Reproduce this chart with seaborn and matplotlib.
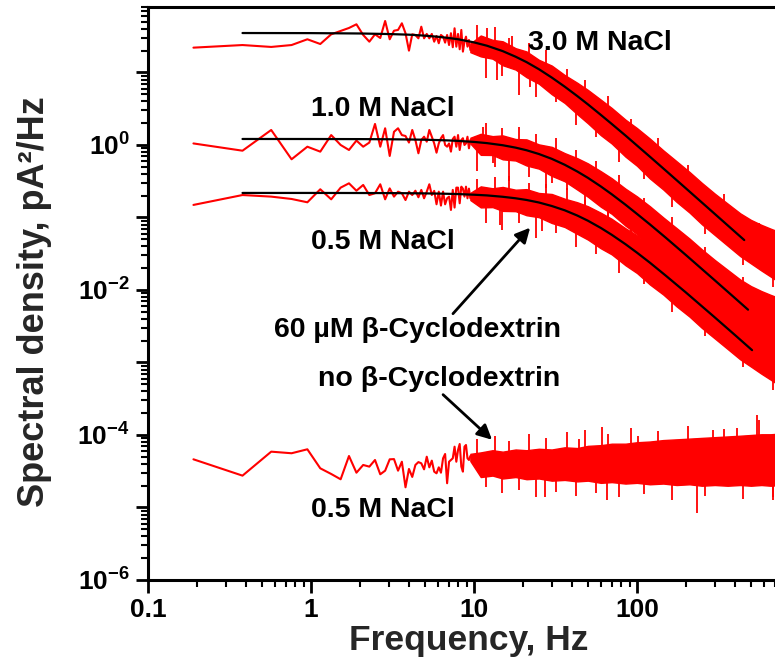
import numpy as np
import matplotlib
matplotlib.use("Agg")
import matplotlib.pyplot as plt
import seaborn as sns
from matplotlib.ticker import FixedLocator, LogLocator, FuncFormatter, NullFormatter

# ---- low-frequency periodogram bins (Hz) ----
FREQ_LOW = [0.19, 0.38, 0.57, 0.76, 0.95, 1.14, 1.33, 1.52, 1.71, 1.90,
            2.09, 2.28, 2.47, 2.66, 2.85, 3.04, 3.23, 3.42, 3.61, 3.80,
            3.99, 4.18, 4.37, 4.56, 4.75, 4.94, 5.13, 5.32, 5.51, 5.70,
            5.89, 6.08, 6.27, 6.46, 6.65, 6.84, 7.03, 7.22, 7.41, 7.60,
            7.79, 7.98, 8.17, 8.36, 8.55, 8.74, 8.93, 9.12, 9.31, 9.50]

# spectral density, pA^2/Hz
PSD_3M0_LOW = [22.0, 23.9, 22.5, 23.9, 28.7, 24.7, 33.6, 37.4, 41.1, 46.2,
               32.9, 26.6, 33.6, 29.9, 51.3, 28.7, 37.7, 38.6, 47.7, 34.8,
               20.0, 33.6, 32.9, 29.6, 42.8, 29.6, 34.0, 29.6, 34.0, 26.6,
               31.9, 25.3, 32.9, 31.2, 25.8, 32.9, 23.9, 34.8, 22.3, 40.7,
               22.7, 34.0, 20.9, 38.6, 19.4, 26.6, 31.2, 22.7, 28.1, 20.4]
PSD_1M0_LOW = [1.05, 0.834, 1.61, 0.635, 0.947, 0.809, 1.37, 1.00, 0.853, 1.15,
               0.947, 1.08, 1.95, 0.947, 1.70, 0.705, 1.52, 1.70, 1.37, 1.33,
               1.08, 1.61, 1.17, 0.768, 1.17, 1.30, 1.11, 1.61, 1.30, 1.05,
               0.783, 1.05, 1.24, 1.37, 1.00, 0.947, 1.05, 0.809, 1.21, 1.30,
               0.947, 1.37, 0.853, 1.17, 1.24, 1.00, 1.05, 1.30, 0.90, 1.17]
PSD_0M5_LOW = [0.149, 0.204, 0.194, 0.180, 0.162, 0.245, 0.178, 0.258, 0.296, 0.234,
               0.281, 0.204, 0.216, 0.287, 0.178, 0.252, 0.194, 0.227, 0.216, 0.174,
               0.227, 0.204, 0.234, 0.190, 0.240, 0.184, 0.227, 0.287, 0.204, 0.233,
               0.152, 0.227, 0.146, 0.227, 0.152, 0.184, 0.194, 0.127, 0.240, 0.137,
               0.258, 0.258, 0.157, 0.266, 0.250, 0.194, 0.266, 0.184, 0.250, 0.184]
PSD_NOCD_LOW = [4.62e-5, 2.75e-5, 5.89e-5, 5.60e-5, 6.35e-5, 3.47e-5, 2.90e-5, 2.45e-5, 5.13e-5, 3.02e-5,
                3.86e-5, 3.66e-5, 4.52e-5, 2.87e-5, 3.22e-5, 4.62e-5, 4.65e-5, 3.22e-5, 4.28e-5, 1.90e-5,
                3.40e-5, 2.64e-5, 3.86e-5, 4.23e-5, 4.07e-5, 3.36e-5, 5.02e-5, 3.58e-5, 4.43e-5, 3.12e-5,
                2.96e-5, 3.58e-5, 3.02e-5, 4.77e-5, 5.47e-5, 2.16e-5, 4.28e-5, 4.52e-5, 4.77e-5, 6.90e-5,
                4.28e-5, 6.21e-5, 7.52e-5, 3.66e-5, 3.12e-5, 6.90e-5, 7.28e-5, 4.77e-5, 4.52e-5, 5.13e-5]

# ---- dense high-frequency part: spread of the periodogram (log10 pA^2/Hz) ----
BAND_FREQ = [9.5, 11, 13, 15, 18, 21, 25, 30, 36, 43, 50, 60, 70, 85, 100,
             120, 145, 175, 210, 250, 300, 360, 430, 500, 580, 660, 760]
BAND_3M0_UP = [1.400, 1.510, 1.450, 1.430, 1.335, 1.290, 1.175, 1.095, 0.965, 0.858, 0.759, 0.625,
               0.510, 0.349, 0.233, 0.088, -0.074, -0.225, -0.372, -0.523, -0.671, -0.809, -0.943,
               -1.033, -1.102, -1.154, -1.207]
BAND_3M0_LO = [1.280, 1.222, 1.190, 1.100, 1.040, 0.935, 0.845, 0.700, 0.580, 0.425, 0.299, 0.135,
               0.020, -0.161, -0.287, -0.462, -0.614, -0.785, -0.932, -1.093, -1.241, -1.389, -1.533,
               -1.633, -1.732, -1.814, -1.907]
BAND_1M0_UP = [0.100, 0.154, 0.122, 0.132, 0.082, 0.077, 0.008, -0.026, -0.112, -0.182, -0.254, -0.362,
               -0.459, -0.603, -0.709, -0.845, -1.000, -1.147, -1.291, -1.440, -1.586, -1.723, -1.856,
               -1.946, -2.015, -2.067, -2.119]
BAND_1M0_LO = [0.020, -0.136, -0.138, -0.198, -0.214, -0.283, -0.326, -0.426, -0.500, -0.615, -0.714,
               -0.852, -0.949, -1.113, -1.229, -1.395, -1.540, -1.707, -1.851, -2.010, -2.156, -2.303,
               -2.446, -2.546, -2.645, -2.727, -2.819]
BAND_0M5_UP = [-0.660, -0.571, -0.597, -0.579, -0.617, -0.609, -0.662, -0.676, -0.741, -0.790, -0.845,
               -0.935, -1.019, -1.149, -1.246, -1.374, -1.523, -1.666, -1.807, -1.953, -2.098, -2.234,
               -2.367, -2.456, -2.525, -2.576, -2.628]
BAND_0M5_LO = [-0.760, -0.861, -0.857, -0.909, -0.913, -0.969, -0.996, -1.076, -1.131, -1.226, -1.305,
               -1.425, -1.509, -1.659, -1.766, -1.924, -2.063, -2.226, -2.367, -2.523, -2.668, -2.814,
               -2.957, -3.056, -3.155, -3.236, -3.328]
BAND_NOCD_UP = [-4.26, -4.24, -4.21, -4.23, -4.20, -4.21, -4.19, -4.20, -4.17, -4.18, -4.15, -4.14,
                -4.12, -4.12, -4.10, -4.09, -4.07, -4.06, -4.05, -4.04, -4.03, -4.02, -4.01, -4.00,
                -3.99, -3.99, -3.98]
BAND_NOCD_LO = [-4.36, -4.58, -4.56, -4.60, -4.58, -4.61, -4.60, -4.63, -4.62, -4.64, -4.63, -4.66,
                -4.65, -4.67, -4.66, -4.68, -4.67, -4.69, -4.68, -4.70, -4.69, -4.70, -4.69, -4.70,
                -4.69, -4.70, -4.69]

# single bins sticking out of the spread (log10 pA^2/Hz): tip, and root inside the spread
SPIKE_FREQ = [10.5, 11.8, 13.4, 14.8, 16.5, 19, 21.8, 24, 27.5, 32, 37, 42, 48, 56, 66,
              78, 92, 110, 135, 165, 205, 260, 340, 450, 560, 680]
SPIKE_3M0_TIP = [1.654, 0.923, 1.634, 0.949, 1.476, 0.692, 1.402, 0.668, 1.316, 0.587, 1.045,
                 0.272, 0.891, 0.110, 0.678, -0.239, 0.363, -0.468, 0.097, -0.855, -0.282,
                 -1.227, -0.679, -1.662, -1.072, -1.960]
SPIKE_3M0_ROOT = [1.404, 1.373, 1.334, 1.299, 1.256, 1.192, 1.122, 1.068, 0.986, 0.887, 0.785,
                  0.692, 0.591, 0.470, 0.338, 0.201, 0.063, -0.088, -0.263, -0.435, -0.622,
                  -0.827, -1.059, -1.302, -1.492, -1.660]
SPIKE_1M0_TIP = [-0.361, 0.308, -0.307, 0.239, -0.499, 0.252, -0.443, 0.149, -0.597, 0.102, -0.626,
                 -0.072, -0.889, -0.226, -1.018, -0.418, -1.304, -0.725, -1.551, -0.998, -1.981,
                 -1.403, -2.354, -1.815, -2.745, -2.123]
SPIKE_1M0_ROOT = [0.039, 0.028, 0.013, -0.001, -0.019, -0.048, -0.083, -0.111, -0.157, -0.218,
                  -0.286, -0.352, -0.429, -0.526, -0.638, -0.758, -0.884, -1.025, -1.191, -1.358,
                  -1.541, -1.743, -1.974, -2.215, -2.405, -2.573]
SPIKE_0M5_TIP = [-0.468, -1.075, -0.444, -1.172, -0.424, -1.082, -0.525, -1.284, -0.537, -1.220,
                 -0.591, -1.403, -0.764, -1.505, -0.862, -1.770, -1.125, -1.917, -1.376, -2.297,
                 -1.696, -2.636, -2.085, -3.065, -2.454, -3.382]
SPIKE_0M5_ROOT = [-0.688, -0.695, -0.704, -0.712, -0.724, -0.742, -0.765, -0.784, -0.817, -0.860,
                  -0.911, -0.963, -1.024, -1.105, -1.202, -1.310, -1.425, -1.557, -1.716, -1.877,
                  -2.056, -2.256, -2.485, -2.725, -2.914, -3.082]
SPIKE_NOCD_TIP = [-4.05, -4.72, -4.02, -4.80, -4.08, -4.76, -3.98, -4.86, -4.04, -4.78, -3.96,
                  -4.84, -3.93, -4.80, -3.98, -4.86, -3.90, -4.82, -3.94, -4.90, -3.88, -4.84,
                  -3.92, -4.88, -3.80, -4.86]
SPIKE_NOCD_ROOT = [-4.40] * len(SPIKE_FREQ)

# a few larger outliers
EXTRA_3M0 = ([12.0, 13.8, 17.0, 22.1], [1.62, 0.90, 1.50, 0.80], [1.40, 1.30, 1.25, 1.10])
EXTRA_1M0 = ([11.3, 13.1, 30.1, 73.3], [0.25, -0.25, -0.52, -0.94], [0.05, 0.00, -0.20, -0.65])
EXTRA_0M5 = ([14.5, 26.0], [-1.10, -1.18], [-0.72, -0.80])
EXTRA_NOCD = ([27.3, 44.0, 61.0, 65.0, 101.0, 233.0, 293.0, 410.0, 545.0, 682.0],
              [-4.86, -4.06, -3.89, -4.90, -4.02, -5.08, -3.93, -3.90, -3.72, -4.90],
              [-4.40, -4.35, -4.35, -4.40, -4.30, -4.40, -4.30, -4.30, -4.30, -4.35])

# ---- Lorentzian fits ----
FIT_FREQ = [0.38, 1, 2, 3, 4, 5, 6, 7, 8, 10, 12, 15, 18, 21, 25, 30, 36, 43,
            50, 60, 70, 85, 100, 120, 150, 200, 300, 400]
FIT_FREQ_3M0 = FIT_FREQ + [455]
FIT_FREQ_1M0 = FIT_FREQ + [480]
FIT_FREQ_0M5 = FIT_FREQ + [508]
FIT_3M0 = [35.0, 34.9, 34.5, 33.9, 33.2, 32.2, 31.1, 29.9, 28.7, 26.0, 23.4, 19.7, 16.5, 13.9,
           11.1, 8.51, 6.38, 4.73, 3.63, 2.60, 1.95, 1.35, 0.983, 0.689, 0.444, 0.251, 0.112,
           0.0631, 0.0488]
FIT_1M0 = [1.21, 1.209, 1.205, 1.199, 1.191, 1.181, 1.169, 1.155, 1.139, 1.102, 1.061, 0.992,
           0.919, 0.846, 0.751, 0.644, 0.534, 0.431, 0.352, 0.268, 0.209, 0.150, 0.112, 0.0803,
           0.0527, 0.0302, 0.0136, 0.00769, 0.00535]
FIT_0M5 = [0.218, 0.218, 0.2175, 0.217, 0.216, 0.215, 0.2136, 0.212, 0.2104, 0.206, 0.2016,
           0.193, 0.184, 0.1744, 0.161, 0.144, 0.1257, 0.1064, 0.0902, 0.0717, 0.0577, 0.0428,
           0.0327, 0.0238, 0.0158, 0.0092, 0.00419, 0.00238, 0.00148]

X_TICKS = [0.1, 1, 10, 100]
X_TICK_LABELS = ["0.1", "1", "10", "100"]

sns.set_theme(style="ticks")
plt.rcParams["font.family"] = ["Liberation Sans", "DejaVu Sans"]
plt.rcParams["font.weight"] = "bold"
plt.rcParams["mathtext.fontset"] = "custom"
plt.rcParams["mathtext.rm"] = "Liberation Sans:bold"
plt.rcParams["mathtext.bf"] = "Liberation Sans:bold"
plt.rcParams["mathtext.it"] = "Liberation Sans:bold"

W, H = 775, 664
fig = plt.figure(figsize=(W / 100, H / 100), dpi=100)
ax = fig.add_axes([148 / W, 84 / H, (800 - 148) / W, (580 - 7) / H])
ax.set_xscale("log")
ax.set_yscale("log")

RED = "#ff0000"
series = [
    (PSD_3M0_LOW, BAND_3M0_LO, BAND_3M0_UP, SPIKE_3M0_TIP, SPIKE_3M0_ROOT, EXTRA_3M0),
    (PSD_1M0_LOW, BAND_1M0_LO, BAND_1M0_UP, SPIKE_1M0_TIP, SPIKE_1M0_ROOT, EXTRA_1M0),
    (PSD_0M5_LOW, BAND_0M5_LO, BAND_0M5_UP, SPIKE_0M5_TIP, SPIKE_0M5_ROOT, EXTRA_0M5),
    (PSD_NOCD_LOW, BAND_NOCD_LO, BAND_NOCD_UP, SPIKE_NOCD_TIP, SPIKE_NOCD_ROOT, EXTRA_NOCD),
]
for low, lo, up, tip, root, extra in series:
    sns.lineplot(x=FREQ_LOW, y=low, color=RED, lw=1.5, estimator=None,
                 sort=False, ax=ax)
    ax.fill_between(BAND_FREQ, np.power(10.0, lo), np.power(10.0, up),
                    color=RED, lw=1.0, zorder=2)
    ax.vlines(SPIKE_FREQ, np.power(10.0, root), np.power(10.0, tip), color=RED,
              lw=1.3, zorder=2)
    ef, etip, eroot = extra
    ax.vlines(ef, np.power(10.0, eroot), np.power(10.0, etip), color=RED,
              lw=1.3, zorder=2)

for ff, fv in [(FIT_FREQ_3M0, FIT_3M0), (FIT_FREQ_1M0, FIT_1M0), (FIT_FREQ_0M5, FIT_0M5)]:
    sns.lineplot(x=ff, y=fv, color="black", lw=1.6, estimator=None, sort=False,
                 ax=ax, zorder=5)

ax.set_xlim(0.1, 1000)
ax.set_ylim(1e-6, 80)

# axis styling
for side in ["left", "bottom", "top"]:
    ax.spines[side].set_linewidth(2.2)
    ax.spines[side].set_color("black")
ax.spines["right"].set_visible(False)

ax.xaxis.set_major_locator(FixedLocator(X_TICKS + [1000]))
ax.xaxis.set_major_formatter(FuncFormatter(
    lambda v, p: X_TICK_LABELS[X_TICKS.index(v)] if v in X_TICKS else ""))
ax.xaxis.set_minor_locator(LogLocator(base=10, subs=np.arange(2, 10), numticks=20))
ax.xaxis.set_minor_formatter(NullFormatter())

ax.yaxis.set_major_locator(FixedLocator([10.0 ** e for e in range(-6, 2)]))


def ylab(v, pos):
    e = int(round(np.log10(v)))
    return r"$\mathbf{10^{%d}}$" % e if e % 2 == 0 else ""


ax.yaxis.set_major_formatter(FuncFormatter(ylab))
ax.yaxis.set_minor_locator(LogLocator(base=10, subs=np.arange(2, 10), numticks=20))
ax.yaxis.set_minor_formatter(NullFormatter())

ax.tick_params(which="major", direction="out", length=9, width=2, labelsize=19,
               top=False, right=False, pad=4, colors="black")
ax.tick_params(which="minor", direction="out", length=5, width=1.5,
               top=False, right=False, colors="black")
for t in ax.get_xticklabels() + ax.get_yticklabels():
    t.set_fontweight("bold")

ax.set_xlabel("Frequency, Hz", fontsize=25.5, fontweight="bold")
ax.set_ylabel("Spectral density, pA²/Hz", fontsize=26, fontweight="bold")
ax.xaxis.set_label_coords(0.492, -0.077)
ax.yaxis.set_label_coords(-0.148, 0.485)

txt = dict(fontsize=20.5, fontweight="bold", ha="center", va="center", color="black")
ax.text(59.3, 25.8, "3.0 M NaCl", **txt)
ax.text(2.77, 3.17, "1.0 M NaCl", **txt)
ax.text(2.77, 0.0464, "0.5 M NaCl", **txt)
ax.text(4.47, 0.00283, "60 µM β-Cyclodextrin", **txt)
ax.text(6.10, 5.98e-4, "no β-Cyclodextrin", **txt)
ax.text(2.77, 9.3e-6, "0.5 M NaCl", **txt)

arrow = dict(arrowstyle="-|>", color="black", lw=2, mutation_scale=22,
             shrinkA=0, shrinkB=0)
ax.annotate("", xy=(22.1, 0.0723), xytext=(7.43, 0.00471), arrowprops=arrow)
ax.annotate("", xy=(12.9, 8.6e-5), xytext=(6.46, 3.6e-4), arrowprops=arrow)

fig.savefig("out.png", dpi=100)
